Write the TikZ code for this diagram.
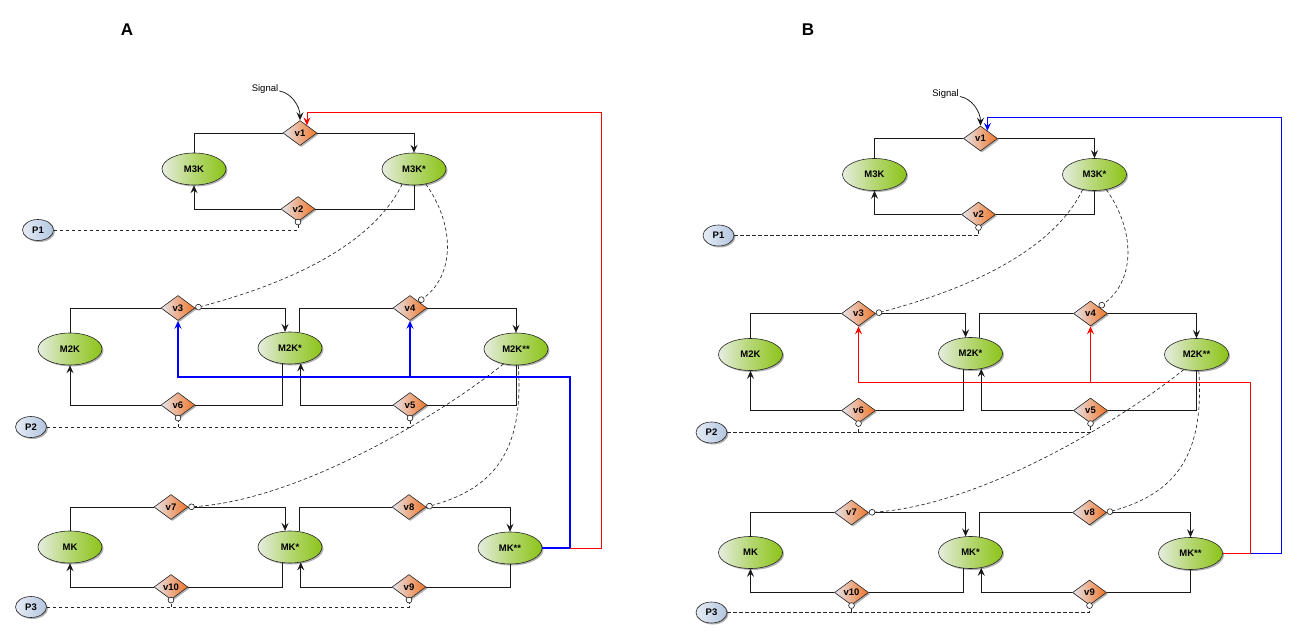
\documentclass[tikz,border=0pt]{standalone}
\usepackage{fontspec}
\setmainfont{Liberation Sans}
\usetikzlibrary{shapes.geometric,arrows.meta,shadows,calc}
\definecolor{ellL}{HTML}{E6EDE0}
\definecolor{ellR}{HTML}{8CC418}
\definecolor{dL}{HTML}{E6E6EE}
\definecolor{dR}{HTML}{F07426}
\definecolor{pL}{HTML}{E6ECF5}
\definecolor{pR}{HTML}{B3C6E0}
\definecolor{fbred}{HTML}{FF0000}
\definecolor{fbblue}{HTML}{0000FF}
\tikzset{
  myshadow/.style={drop shadow={shadow xshift=1.5pt,shadow yshift=-1.5pt,opacity=0.3,fill=black}},
  kin/.style={ellipse, draw=black!85, line width=0.6pt, minimum width=64pt, minimum height=32pt,
    inner sep=0pt, left color=ellL, right color=ellR, middle color=ellR!55!ellL, myshadow,
    font=\fontsize{9.5}{11}\selectfont\bfseries},
  rx/.style={diamond, draw=black!85, line width=0.6pt, minimum width=34pt, minimum height=25pt,
    inner sep=0pt, aspect=1.36, left color=dL, right color=dR, middle color=dR!50!dL, myshadow,
    font=\fontsize{9.5}{11}\selectfont\bfseries},
  pn/.style={ellipse, draw=black!85, line width=0.6pt, minimum width=31pt, minimum height=21pt,
    inner sep=0pt, left color=pL, right color=pR, myshadow,
    font=\fontsize{9.5}{11}\selectfont\bfseries},
  sig/.style={font=\fontsize{9.5}{11}\selectfont, inner sep=1pt},
  paneltitle/.style={font=\fontsize{17}{20}\selectfont\bfseries},
  act/.style={draw=black!90, line width=0.75pt},
  inh/.style={draw=black!85, line width=0.65pt, dash pattern=on 3.5pt off 2.5pt,
    -{Circle[length=6.5pt,fill=white,line width=0.65pt]}},
  bluethick/.style={draw=fbblue, line width=1.2pt},
  redthin/.style={draw=fbred, line width=0.8pt},
  redthick/.style={draw=fbred, line width=1.6pt},
  bluethin/.style={draw=fbblue, line width=0.8pt},
}
% #1 name prefix, #2 style of inner feedback, #3 style of outer feedback
\newcommand{\kpanel}[3]{%
  \node[sig] (#1sig) at (265,89) {Signal};
  \node[kin] (#1M3K) at (194,169) {M3K};
  \node[kin] (#1M3Ks) at (414,169) {M3K*};
  \node[rx] (#1v1) at (300,133) {v1};
  \node[rx] (#1v2) at (298,209) {v2};
  \node[pn] (#1P1) at (38,230) {P1};
  \node[kin] (#1M2K) at (70,349) {M2K};
  \node[kin] (#1M2Ks) at (290,348) {M2K*};
  \node[kin] (#1M2Kss) at (516,349) {M2K**};
  \node[rx] (#1v3) at (178,308) {v3};
  \node[rx] (#1v4) at (410,308) {v4};
  \node[rx] (#1v6) at (178,405) {v6};
  \node[rx] (#1v5) at (410,405) {v5};
  \node[pn] (#1P2) at (31,427) {P2};
  \node[kin] (#1MK) at (70,547) {MK};
  \node[kin] (#1MKs) at (290,547) {MK*};
  \node[kin] (#1MKss) at (510,548) {MK**};
  \node[rx] (#1v7) at (171,507) {v7};
  \node[rx] (#1v8) at (409,507) {v8};
  \node[rx] (#1v10) at (171,587) {v10};
  \node[rx] (#1v9) at (409,587) {v9};
  \node[pn] (#1P3) at (31,607) {P3};
  \draw[act,->] ([yshift=-2pt]#1sig.east) .. controls +(12,2) and +(0,-14) .. (#1v1.north);
  \draw[act] (#1M3K.north) |- (#1v1.west);
  \draw[act,->] (#1v1.east) -| (#1M3Ks.north);
  \draw[act] (#1M3Ks.south) |- (#1v2.east);
  \draw[act,->] (#1v2.west) -| (#1M3K.south);
  \draw[act] (#1M2K.north) |- (#1v3.west);
  \draw[act,->] (#1v3.east) -| (#1M2Ks.107);
  \draw[act] (#1M2Ks.60) |- (#1v4.west);
  \draw[act,->] (#1v4.east) -| (#1M2Kss.north);
  \draw[act] (#1M2Ks.-115) |- (#1v6.east);
  \draw[act,->] (#1v6.west) -| (#1M2K.south);
  \draw[act] (#1M2Kss.south) |- (#1v5.east);
  \draw[act,->] (#1v5.west) -| (#1M2Ks.-55);
  \draw[act] (#1MK.north) |- (#1v7.west);
  \draw[act,->] (#1v7.east) -| (#1MKs.107);
  \draw[act] (#1MKs.60) |- (#1v8.west);
  \draw[act,->] (#1v8.east) -| (#1MKss.north);
  \draw[act] (#1MKs.-115) |- (#1v10.east);
  \draw[act,->] (#1v10.west) -| (#1MK.south);
  \draw[act] (#1MKss.south) |- (#1v9.east);
  \draw[act,->] (#1v9.west) -| (#1MKs.-55);
  \draw[inh] (#1P1.east) -| ([yshift=3pt]#1v2.south);
  \draw[inh] (#1P2.east) -| ([yshift=3pt]#1v5.south);
  \draw[inh] (#1v6.south |- #1P2.east) -- ([yshift=3pt]#1v6.south);
  \draw[inh] (#1P3.east) -| ([yshift=3pt]#1v9.south);
  \draw[inh] (#1v10.south |- #1P3.east) -- ([yshift=3pt]#1v10.south);
  \draw[inh] (#1M3Ks.-128) .. controls (380,230) and (320,275) .. (#1v3.east);
  \draw[inh] (#1M3Ks.-52) .. controls (455,225) and (455,275) .. ($(#1v4.north)!0.5!(#1v4.east)$);
  \draw[inh] (#1M2Kss.-130) .. controls (440,415) and (300,500) .. (#1v7.east);
  \draw[inh] (#1M2Kss.-82) .. controls (524,450) and (495,488) .. (#1v8.east);
  \coordinate (#1fa) at (570,377);
  \coordinate (#1fb) at (601,112);
  \coordinate (#1vr) at ($(#1v1.north)!0.4!(#1v1.east)$);
  \draw[#2,->] (#1MKss.east) -- (#1MKss.east -| #1fa) -- (#1fa) -| (#1v3.south);
  \draw[#2,->] (#1v4.south |- #1fa) -- (#1v4.south);
  \draw[#3,->] (#1MKss.east -| #1fa) -- (#1MKss.east -| #1fb) -- (#1fb) -- (#1fb -| #1vr) -- (#1vr);
}
\begin{document}
\begin{tikzpicture}[x=1pt,y=-1pt,>={Stealth[length=8pt,width=7pt,inset=3pt]}]
\useasboundingbox (0,0) rectangle (1299,639);
\node[paneltitle] (labA) at (127,30) {A};
\node[paneltitle] (labB) at (808,30) {B};
\begin{scope}
  \kpanel{a}{bluethick}{redthin}
\end{scope}
\begin{scope}[shift={(680.5,5.5)}]
  \kpanel{b}{redthick}{bluethin}
\end{scope}
\end{tikzpicture}
\end{document}
